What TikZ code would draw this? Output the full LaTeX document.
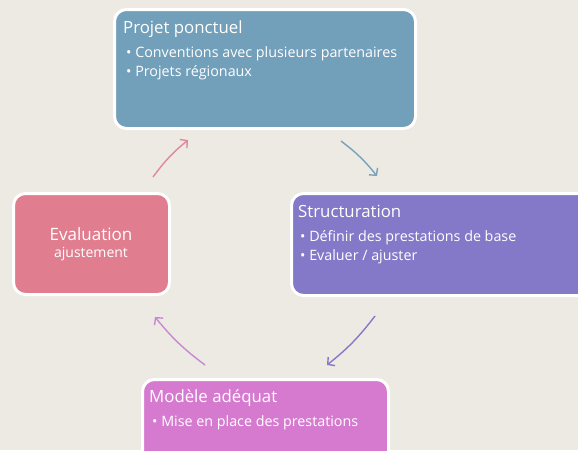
\documentclass[tikz,border=0pt]{standalone}
\usepackage{fontspec}
\setmainfont{Open Sans}
\usetikzlibrary{arrows.meta}
\definecolor{bg}{RGB}{236,234,227}
\definecolor{cblue}{RGB}{114,159,186}
\definecolor{cpurple}{RGB}{132,120,200}
\definecolor{cpink}{RGB}{224,126,144}
\definecolor{cmag}{RGB}{214,122,208}
\definecolor{ablue}{RGB}{120,162,186}
\definecolor{apurple}{RGB}{136,120,200}
\definecolor{apink}{RGB}{224,136,152}
\definecolor{amag}{RGB}{200,136,208}
\tikzset{
  box/.style={draw=white, line width=3pt, rounded corners=12pt, inner sep=0pt, outer sep=0pt},
  ttl/.style={anchor=base west, text=white, font=\fontsize{16.8}{19}\selectfont, inner sep=0pt},
  itm/.style={anchor=base west, text=white, font=\fontsize{14.3}{17}\selectfont, inner sep=0pt},
  cyc/.style={line width=1.4pt, -{Straight Barb[length=5pt,width=11pt,line width=1.4pt]}},
}
\begin{document}
\begin{tikzpicture}[x=1pt,y=-1pt]
\clip (0,0) rectangle (578,450);
\fill[bg] (0,0) rectangle (578,450);
% boxes
\node[box, fill=cblue, minimum width=301pt, minimum height=119pt, anchor=north west] (proj) at (114.5,9.5) {};
\node[box, fill=cpurple, minimum width=310pt, minimum height=102pt, anchor=north west] (struc) at (291.5,193.5) {};
\node[box, fill=cpink, minimum width=156pt, minimum height=101pt, anchor=north west] (eval) at (13.5,193.5) {};
\node[box, fill=cmag, minimum width=246pt, minimum height=90pt, anchor=north west] (mod) at (142.5,379.5) {};
% texts
\node[ttl] (t1) at (123,33) {Projet ponctuel};
\node[itm] (t1a) at (126,57) {• Conventions avec plusieurs partenaires};
\node[itm] (t1b) at (126,76) {• Projets régionaux};
\node[ttl] (t2) at (298,217) {Structuration};
\node[itm] (t2a) at (300,241) {• Définir des prestations de base};
\node[itm] (t2b) at (300,260) {• Evaluer / ajuster};
\node[text=white, font=\fontsize{17}{19}\selectfont, inner sep=0pt] (t3) at (91,234) {Evaluation};
\node[text=white, font=\fontsize{14}{16}\selectfont, inner sep=0pt] (t3a) at (91,254) {ajustement};
\node[ttl] (t4) at (149,402) {Modèle adéquat};
\node[itm] (t4a) at (152,426) {• Mise en place des prestations};
% arrows
\coordinate (a1s) at (341,141);
\coordinate (a1e) at (377,176);
\coordinate (a2s) at (375,316);
\coordinate (a2e) at (327,365);
\coordinate (a3s) at (205,365);
\coordinate (a3e) at (155,317);
\coordinate (a4s) at (153,177);
\coordinate (a4e) at (188,140);
\draw[cyc, ablue] (a1s) to[bend left=7] (a1e);
\draw[cyc, apurple] (a2s) to[bend left=7] (a2e);
\draw[cyc, amag] (a3s) to[bend left=7] (a3e);
\draw[cyc, apink] (a4s) to[bend left=7] (a4e);
\end{tikzpicture}
\end{document}
